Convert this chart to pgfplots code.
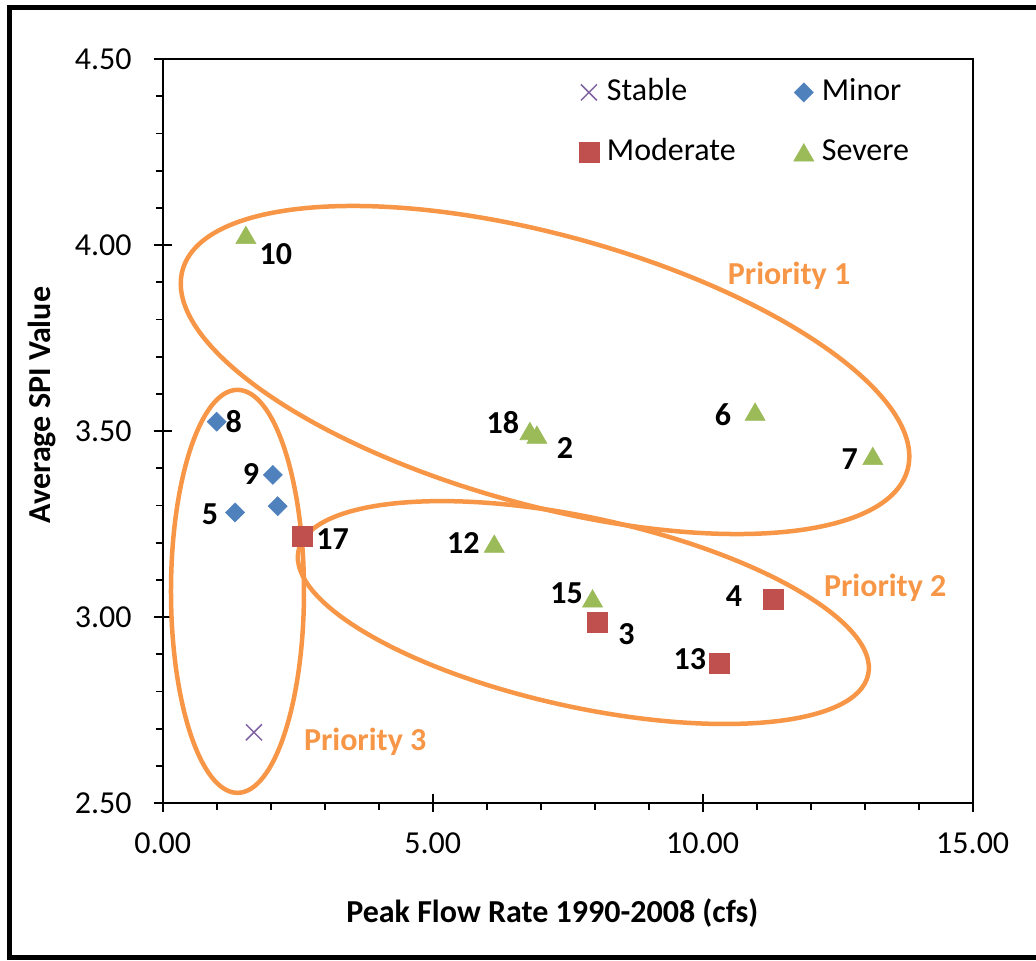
\documentclass[border=0pt]{standalone}
\usepackage{fontspec}
\setmainfont{Carlito}
\usepackage{pgfplots}
\pgfplotsset{compat=1.18}

\definecolor{stablec}{HTML}{8064A2}
\definecolor{minorc}{HTML}{4F81BD}
\definecolor{moderc}{HTML}{C0504D}
\definecolor{severc}{HTML}{9BBB59}
\definecolor{prioc}{HTML}{F79646}

\newcommand{\fs}{\fontsize{16}{19}\selectfont}

\pgfplotsset{
  single mark legend/.style={legend image code/.code={\draw[##1] plot coordinates {(0pt,0pt)};}},
  point labels/.style={
    nodes near coords, point meta=explicit symbolic,
    visualization depends on={value \thisrow{dx}\as\dx},
    visualization depends on={value \thisrow{dy}\as\dy},
    every node near coord/.append style={anchor=center, text=black,
      font=\bfseries\fs, inner sep=0pt, xshift=\dx pt, yshift=\dy pt}
  }
}

\begin{document}
\begin{tikzpicture}
\begin{axis}[
  scale only axis, width=405pt, height=372pt,
  xmin=0, xmax=15, ymin=2.5, ymax=4.5,
  xtick={0,5,10,15}, ytick={2.5,3,3.5,4,4.5},
  minor x tick num=4, minor y tick num=4,
  tick pos=left, tick align=outside,
  major tick length=4.5pt, minor tick length=3.5pt,
  extra x ticks={0,5,10,15}, extra x tick labels={},
  extra y ticks={2.5,3,3.5,4,4.5}, extra y tick labels={},
  extra tick style={tick align=inside, major tick length=4.5pt},
  axis line style={line width=0.9pt},
  every tick/.style={black, line width=0.9pt},
  tick label style={font=\fs},
  xticklabel style={yshift=-7pt},
  yticklabel style={xshift=-7.5pt},
  /pgf/number format/.cd, fixed, fixed zerofill, precision=2, assume math mode=true,
  /pgfplots/.cd,
  xlabel={Peak Flow Rate 1990-2008 (cfs)},
  ylabel={Average SPI Value},
  xlabel style={at={(axis description cs:0.481,-0.148)}, anchor=center, font=\bfseries\fs},
  ylabel style={at={(axis description cs:-0.149,0.535)}, anchor=center, font=\bfseries\fs},
  clip=false,
  legend columns=2, legend cell align=left,
  legend style={draw=none, fill=none, at={(axis description cs:0.5134,0.9758)},
    anchor=north west, inner sep=0pt, font=\fs, row sep=15pt,
    nodes={inner sep=0pt, text height=11.5pt, text depth=3.5pt},
    /tikz/every odd column/.append style={column sep=4pt},
    /tikz/every even column/.append style={column sep=29pt}},
]

\addplot[only marks, single mark legend, mark=x, mark size=5.66pt, color=stablec, line width=0.75pt]
  coordinates {(1.69,2.69)};
\addlegendentry{Stable}

\addplot[only marks, single mark legend, mark=diamond*, mark size=4.75pt, color=minorc,
  mark options={xscale=1.333, line width=0.3pt}, point labels]
  table[meta=lab] {
x     y      lab dx    dy
1.00  3.525  8   8.5   0
2.04  3.382  9   -11   0.5
1.34  3.281  5   -12.5 -0.8
};
\addlegendentry{Minor}
\addplot[only marks, forget plot, mark=diamond*, mark size=4.75pt, color=minorc,
  mark options={xscale=1.333, line width=0.3pt}]
  coordinates {(2.13,3.298)};

\addplot[only marks, single mark legend, mark=square*, mark size=5pt, color=moderc,
  mark options={line width=0.3pt}, point labels]
  table[meta=lab] {
x     y      lab dx    dy
2.59  3.216  17  15    -1
8.05  2.986  3   14.5  -6
10.30 2.876  13  -14.5 2
11.30 3.048  4   -19.5 1.5
};
\addlegendentry{Moderate}

\addplot[only marks, single mark legend, mark=triangle*, mark size=5.8pt, color=severc,
  mark options={yshift=-1.45pt, line width=0.3pt}, point labels]
  table[meta=lab] {
x     y      lab dx    dy
1.54  4.027  10  15    -8
6.80  3.500  18  -13.5 5.5
6.93  3.490  2   14    -5
10.97 3.552  6   -16   0
13.15 3.433  7   -11.5 0
6.14  3.197  12  -15.5 1.8
7.96  3.050  15  -13   4
};
\addlegendentry{Severe}

\draw[prioc, line width=2.25pt, rotate around={-15.4:(axis cs:7.08,3.664)}]
  (axis cs:7.08,3.664) ellipse [x radius=188pt, y radius=67.5pt];
\draw[prioc, line width=2.25pt, rotate around={-12.3:(axis cs:7.79,3.012)}]
  (axis cs:7.79,3.012) ellipse [x radius=145.75pt, y radius=47.35pt];
\draw[prioc, line width=2.25pt]
  (axis cs:1.385,3.069) ellipse [x radius=33.25pt, y radius=100.75pt];

\node[text=prioc, font=\bfseries\fs] at (axis cs:11.6,3.917) {Priority 1};
\node[text=prioc, font=\bfseries\fs] at (axis cs:13.38,3.078) {Priority 2};
\node[text=prioc, font=\bfseries\fs] at (axis cs:3.75,2.664) {Priority 3};
\end{axis}
\draw[line width=2.5pt] (-76.35pt,-77pt) rectangle (450pt,397.5pt);
\pgfresetboundingbox
\path[use as bounding box] (-81.35pt,-78.5pt) rectangle (436.65pt,401.5pt);
\end{tikzpicture}
\end{document}
